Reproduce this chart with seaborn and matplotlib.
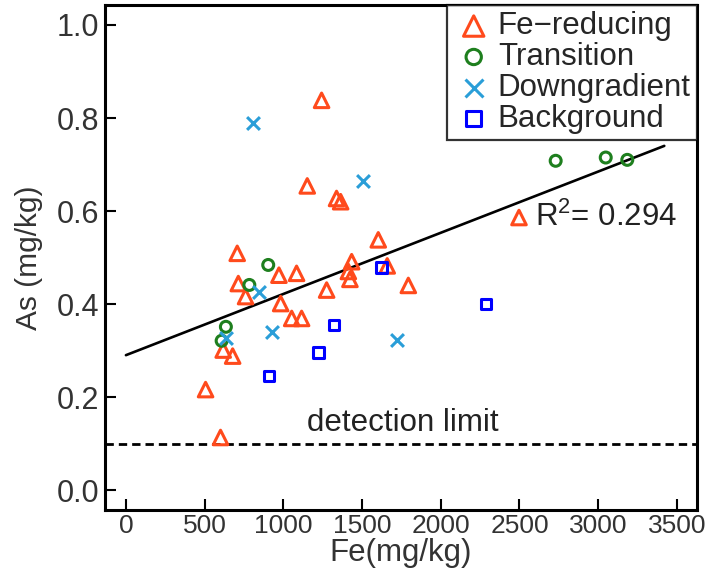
import matplotlib
matplotlib.use("Agg")
import matplotlib.pyplot as plt
import seaborn as sns
import numpy as np
import pandas as pd

# ---- data ----
fe_reducing_fe = [1243, 1152, 1338, 1364, 1603, 707, 1660, 972, 1084, 1434, 1413, 1423,
                  1794, 714, 760, 983, 1275, 1053, 1116, 618, 678, 506, 601, 2497]
fe_reducing_as = [0.838, 0.654, 0.627, 0.620, 0.538, 0.509, 0.482, 0.462, 0.466, 0.491, 0.470, 0.453,
                  0.440, 0.444, 0.416, 0.401, 0.430, 0.369, 0.369, 0.301, 0.288, 0.216, 0.113, 0.586]
transition_fe = [904, 784, 635, 608, 2730, 3048, 3185]
transition_as = [0.484, 0.441, 0.351, 0.321, 0.708, 0.715, 0.710]
downgradient_fe = [809, 1508, 847, 925, 1724, 635]
downgradient_as = [0.790, 0.665, 0.426, 0.340, 0.323, 0.326]
background_fe = [1624, 1321, 1224, 908, 2287]
background_as = [0.479, 0.355, 0.296, 0.245, 0.400]

groups = ["Fe\u2212reducing", "Transition", "Downgradient", "Background"]
fit_intercept = 0.290
fit_slope = 1.316e-4
fit_x_range = [0, 3420]
detection_limit = 0.1
r2_text = "R$^2$= 0.294"

x_ticks = [0, 500, 1000, 1500, 2000, 2500, 3000, 3500]
y_ticks = [0.0, 0.2, 0.4, 0.6, 0.8, 1.0]

sns.set_theme(style="white")
plt.rcParams["font.family"] = ["Liberation Sans", "DejaVu Sans"]
plt.rcParams["mathtext.fontset"] = "custom"
plt.rcParams["mathtext.rm"] = "Liberation Sans"
plt.rcParams["mathtext.it"] = "Liberation Sans"

fig = plt.figure(figsize=(7.07, 5.75), dpi=100)
ax = fig.add_axes([0.1485, 0.113, 0.8374, 0.8783])

styles = {
    "Fe\u2212reducing": dict(marker="^", color="#FF4A1C", s=110, filled=False),
    "Transition": dict(marker="o", color="#1E7F1E", s=62, filled=False),
    "Downgradient": dict(marker="x", color="#2A9ED8", s=85, filled=True),
    "Background": dict(marker="s", color="#0000FF", s=58, filled=False),
}
xs = [fe_reducing_fe, transition_fe, downgradient_fe, background_fe]
ys = [fe_reducing_as, transition_as, downgradient_as, background_as]

for g, xv, yv in zip(groups, xs, ys):
    st = styles[g]
    df = pd.DataFrame({"Fe": xv, "As": yv})
    if st["filled"]:
        sns.scatterplot(data=df, x="Fe", y="As", ax=ax, marker=st["marker"],
                        color=st["color"], s=st["s"], linewidth=2.2, label=g, zorder=3)
    else:
        sns.scatterplot(data=df, x="Fe", y="As", ax=ax, marker=st["marker"],
                        facecolor="none", edgecolor=st["color"], s=st["s"],
                        linewidth=2.2, label=g, zorder=3)

# regression line
fx = np.array(fit_x_range, dtype=float)
ax.plot(fx, fit_intercept + fit_slope * fx, color="black", lw=1.9, zorder=2)

# detection limit
ax.axhline(detection_limit, color="black", lw=2.0, dashes=(3, 1.8), zorder=2)
ax.text(1760, 0.145, "detection limit", ha="center", va="center", fontsize=22.5, color="#222222")
ax.text(2600, 0.587, r2_text, ha="left", va="center", fontsize=22.5, color="#222222")

ax.set_xlim(-133, 3628)
ax.set_ylim(-0.043, 1.043)
ax.set_xticks(x_ticks)
ax.set_yticks(y_ticks)
ax.set_yticklabels([f"{v:.1f}" for v in y_ticks])
ax.tick_params(direction="in", length=8, width=1.5, color="black", labelcolor="#333333",
               bottom=True, left=True)
ax.tick_params(axis="x", labelsize=19, pad=3)
ax.tick_params(axis="y", labelsize=22, pad=4)
ax.set_xlabel("Fe(mg/kg)", fontsize=22.5, color="#333333", labelpad=0)
ax.set_ylabel("As (mg/kg)", fontsize=21.5, color="#333333", labelpad=10)
for sp in ax.spines.values():
    sp.set_color("black")
    sp.set_linewidth(2.2)

leg = ax.legend(loc="upper right", borderaxespad=0, fontsize=22.5, frameon=True,
                fancybox=False, edgecolor="black", labelspacing=0.03,
                handletextpad=0.12, handlelength=1.3, borderpad=0.2, markerscale=1.4)
leg.get_frame().set_linewidth(1.6)

fig.savefig("out.png", dpi=100)
